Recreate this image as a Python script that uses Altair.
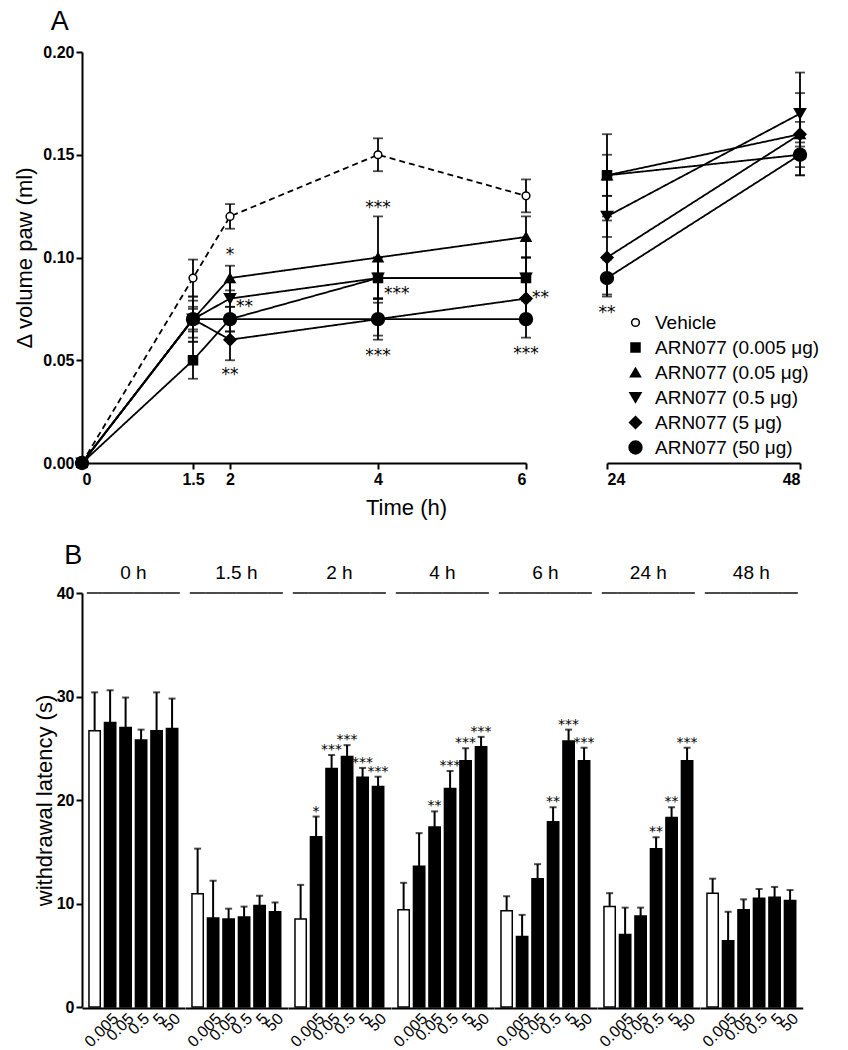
import altair as alt
import pandas as pd

# ---------------- Panel A data ----------------
times = [0, 1.5, 2, 4, 6, 24, 48]
series_names = ["Vehicle", "ARN077 (0.005 μg)", "ARN077 (0.05 μg)",
                "ARN077 (0.5 μg)", "ARN077 (5 μg)", "ARN077 (50 μg)"]
series_shapes = ["circle", "square", "triangle-up", "triangle-down", "diamond", "circle"]
series_fill = ["white", "black", "black", "black", "black", "black"]
series_size = [60, 165, 165, 165, 190, 120]
draw_order = [0, 2, 3, 4, 5, 1]   # square series drawn last (on top)

vehicle_mean = [0, 0.09, 0.12, 0.15, 0.13, None, None]
vehicle_sem = [0, 0.009, 0.006, 0.008, 0.008, None, None]
d0005_mean = [0, 0.05, 0.07, 0.09, 0.09, 0.14, 0.15]
d0005_sem = [0, 0.009, 0.006, 0.01, 0.01, 0.02, 0.01]
d005_mean = [0, 0.07, 0.09, 0.10, 0.11, 0.14, 0.16]
d005_sem = [0, 0.011, 0.006, 0.02, 0.01, 0.01, 0.006]
d05_mean = [0, 0.07, 0.08, 0.09, 0.09, 0.12, 0.17]
d05_sem = [0, 0.009, 0.008, 0.01, 0.01, 0.01, 0.02]
d5_mean = [0, 0.07, 0.06, 0.07, 0.08, 0.10, 0.16]
d5_sem = [0, 0.006, 0.01, 0.008, 0.01, 0.018, 0.02]
d50_mean = [0, 0.07, 0.07, 0.07, 0.07, 0.09, 0.15]
d50_sem = [0, 0.005, 0.006, 0.01, 0.009, 0.009, 0.006]

# significance marks in panel A
ann_time = [2, 2, 2, 4, 4, 4, 6, 6, 24]
ann_y = [0.103, 0.078, 0.045, 0.126, 0.084, 0.054, 0.082, 0.055, 0.075]
ann_text = ["*", "**", "**", "***", "***", "***", "**", "***", "**"]
ann_side = ["c", "r", "c", "c", "r", "c", "r", "c", "c"]

# ---------------- Panel B data ----------------
b_times = ["0 h", "1.5 h", "2 h", "4 h", "6 h", "24 h", "48 h"]
b_doses = ["Vehicle", "0.005", "0.05", "0.5", "5", "50"]
b_mean = [
    [26.7, 27.5, 27.0, 25.8, 26.7, 26.9],
    [10.95, 8.6, 8.5, 8.7, 9.8, 9.2],
    [8.5, 16.45, 23.05, 24.2, 22.2, 21.3],
    [9.4, 13.6, 17.4, 21.1, 23.8, 25.15],
    [9.3, 6.8, 12.4, 17.9, 25.7, 23.8],
    [9.7, 7.0, 8.8, 15.3, 18.3, 23.8],
    [11.0, 6.4, 9.4, 10.5, 10.6, 10.3],
]
b_sem = [
    [3.7, 3.1, 2.9, 1.0, 3.7, 2.9],
    [4.35, 3.6, 1.0, 1.0, 0.95, 0.9],
    [3.3, 1.95, 1.3, 1.1, 0.9, 0.95],
    [2.6, 3.2, 1.5, 1.7, 1.2, 0.95],
    [1.4, 2.1, 1.4, 1.4, 1.1, 1.25],
    [1.3, 2.6, 0.8, 1.1, 1.0, 1.25],
    [1.4, 2.8, 1.0, 0.9, 1.0, 1.0],
]
b_stars = [
    ["", "", "", "", "", ""],
    ["", "", "", "", "", ""],
    ["", "*", "***", "***", "***", "***"],
    ["", "", "**", "***", "***", "***"],
    ["", "", "", "**", "***", "***"],
    ["", "", "", "**", "**", "***"],
    ["", "", "", "", "", ""],
]

FONT = "Liberation Sans"

# ---------------- build tables ----------------
means = [vehicle_mean, d0005_mean, d005_mean, d05_mean, d5_mean, d50_mean]
sems = [vehicle_sem, d0005_sem, d005_sem, d05_sem, d5_sem, d50_sem]
rowsA = []
for i in draw_order:
    name, ml, sl = series_names[i], means[i], sems[i]
    for t, m, s in zip(times, ml, sl):
        if m is None:
            continue
        rowsA.append({"series": name, "dashkey": "d" if i == 0 else "s", "time": t,
                      "mean": m, "lo": m - s, "hi": m + s,
                      "part": "early" if t <= 6 else "late"})
dfA = pd.DataFrame(rowsA)
dfAnn = pd.DataFrame({"time": ann_time, "y": ann_y, "txt": ann_text, "side": ann_side,
                      "part": ["early" if t <= 6 else "late" for t in ann_time]})

rowsB = []
for t, ml, sl, stl in zip(b_times, b_mean, b_sem, b_stars):
    for d, m, s, st in zip(b_doses, ml, sl, stl):
        rowsB.append({"time": t, "dose": d, "mean": m, "top": m + s, "stars": st})
dfB = pd.DataFrame(rowsB)

legendA = alt.Legend(orient="none", legendX=544, legendY=261, title=None,
                     labelFont=FONT, labelFontSize=19, labelColor="black",
                     labelLimit=400, rowPadding=5, symbolStrokeColor="black",
                     symbolStrokeWidth=1.5, labelOffset=10)

ydomA = [0, 0.2]


def panel_a(part, width, xdomain, xvalues, first):
    d = dfA[dfA.part == part]
    a = dfAnn[dfAnn.part == part]
    if first:
        xaxis = alt.Axis(values=xvalues, labelExpr="datum.value", title="Time (h)", titleX=324,
                         titlePadding=10, titleFontSize=22)
        yaxis = alt.Axis(values=[0, 0.05, 0.10, 0.15, 0.20], format=".2f",
                         title="Δ volume paw (ml)", titlePadding=6, titleFontSize=22)
    else:
        xaxis = alt.Axis(values=xvalues, labelExpr="datum.value", title=None)
        yaxis = None
    xs = alt.Scale(domain=xdomain, nice=False, zero=False)
    ys = alt.Scale(domain=ydomA, nice=False)
    x = alt.X("time:Q", scale=xs, axis=xaxis)
    base = alt.Chart(d).encode(x=x)
    err = base.mark_rule(color="black", strokeWidth=1.8).encode(
        y=alt.Y("lo:Q", scale=ys, axis=yaxis), y2="hi:Q")
    cap_lo = base.mark_tick(orient="horizontal", color="black", size=10, thickness=1.8).encode(
        y=alt.Y("lo:Q", scale=ys, axis=yaxis))
    cap_hi = base.mark_tick(orient="horizontal", color="black", size=10, thickness=1.8).encode(
        y=alt.Y("hi:Q", scale=ys, axis=yaxis))
    line = base.mark_line(color="black", strokeWidth=1.8).encode(
        y=alt.Y("mean:Q", scale=ys, axis=yaxis), detail="series:N",
        strokeDash=alt.StrokeDash("dashkey:N", scale=alt.Scale(domain=["d", "s"],
                                                               range=[[6, 4], [1, 0]]),
                                  legend=None))
    pts = base.mark_point(filled=False, strokeWidth=1.5, opacity=1).encode(
        y=alt.Y("mean:Q", scale=ys, axis=yaxis),
        shape=alt.Shape("series:N", scale=alt.Scale(domain=series_names, range=series_shapes),
                        legend=legendA),
        fill=alt.Fill("series:N", scale=alt.Scale(domain=series_names, range=series_fill),
                      legend=legendA),
        stroke=alt.Stroke("series:N", scale=alt.Scale(domain=series_names,
                                                      range=["black"] * 6),
                          legend=legendA),
        size=alt.Size("series:N", scale=alt.Scale(domain=series_names, range=series_size),
                      legend=legendA),
    )
    layers = [err, cap_lo, cap_hi, line, pts]
    if len(a):
        ta = alt.Chart(a).encode(
            x=alt.X("time:Q", scale=xs, axis=xaxis),
            y=alt.Y("y:Q", scale=ys, axis=yaxis),
            text="txt:N")
        layers.append(ta.transform_filter("datum.side == 'c'").mark_text(
            font="DejaVu Sans", fontSize=17, baseline="alphabetic", dy=9, color="black"))
        layers.append(ta.transform_filter("datum.side == 'r'").mark_text(
            font="DejaVu Sans", fontSize=17, baseline="alphabetic", dy=9, dx=6,
            align="left", color="black"))
    return alt.layer(*layers).properties(width=width, height=411)


left = panel_a("early", 444, [0, 6], [0, 1.5, 2, 4, 6], True)
right = panel_a("late", 193, [24, 48], [24, 48], False)
panelA = alt.hconcat(left, right, spacing=81, bounds="flush").properties(
    title=alt.Title("A", anchor="start", fontSize=27, fontWeight="normal", font=FONT,
                    color="black", dx=37, offset=8))

# ---------------- Panel B ----------------
xB = alt.X("dose:N", sort=b_doses,
           scale=alt.Scale(paddingInner=0.27, paddingOuter=0.45),
           axis=alt.Axis(title=None, labelAngle=-45, ticks=False, labelFontWeight="normal",
                         labelFontSize=16, labelPadding=2,
                         labelExpr="datum.value == 'Vehicle' ? '' : datum.value"))
yscaleB = alt.Scale(domain=[0, 40], nice=False)
yaxisB = alt.Axis(values=[0, 10, 20, 30, 40], title="withdrawal latency (s)",
                  titleFontSize=22, titlePadding=0)
baseB = alt.Chart().encode(x=xB)
bars = baseB.mark_bar(stroke="black", strokeWidth=1.5).encode(
    y=alt.Y("mean:Q", scale=yscaleB, axis=yaxisB),
    fill=alt.condition("datum.dose == 'Vehicle'", alt.value("white"), alt.value("black")))
errB = baseB.mark_rule(color="black", strokeWidth=2).encode(
    y=alt.Y("mean:Q", scale=yscaleB, axis=yaxisB), y2="top:Q")
capB = baseB.mark_tick(color="black", size=7, thickness=2).encode(
    y=alt.Y("top:Q", scale=yscaleB, axis=yaxisB))
starB = baseB.mark_text(font="DejaVu Sans", fontSize=14, baseline="alphabetic", dy=-1,
                        color="black").encode(
    y=alt.Y("top:Q", scale=yscaleB, axis=yaxisB), text="stars:N")
hdr = baseB.mark_tick(color="black", size=15.6, thickness=2).encode(
    y=alt.Y(datum=40, scale=yscaleB, axis=yaxisB))

panelB = alt.layer(bars, errB, capB, starB, hdr, data=dfB).properties(
    width=102.7, height=414).facet(
    column=alt.Column("time:N", sort=b_times, title=None,
                      header=alt.Header(labelFont=FONT, labelFontSize=19, labelColor="black",
                                        labelFontWeight="normal", labelPadding=9)),
    spacing=0).properties(
    title=alt.Title("B", anchor="start", fontSize=27, fontWeight="normal", font=FONT,
                    color="black", dx=31, offset=-6))

chart = alt.vconcat(panelA, panelB, spacing=24).configure_axis(
    domainColor="black", domainWidth=2, tickColor="black", tickWidth=2, tickSize=6,
    labelColor="black", titleColor="black", grid=False, labelFont=FONT, titleFont=FONT,
    labelFontSize=16, labelFontWeight="bold", titleFontWeight="normal"
).configure_view(stroke=None).properties(padding={"left": 5, "top": 0, "right": 5, "bottom": 0})

chart.save("out.html", embed_options={"renderer": "svg", "actions": False})
